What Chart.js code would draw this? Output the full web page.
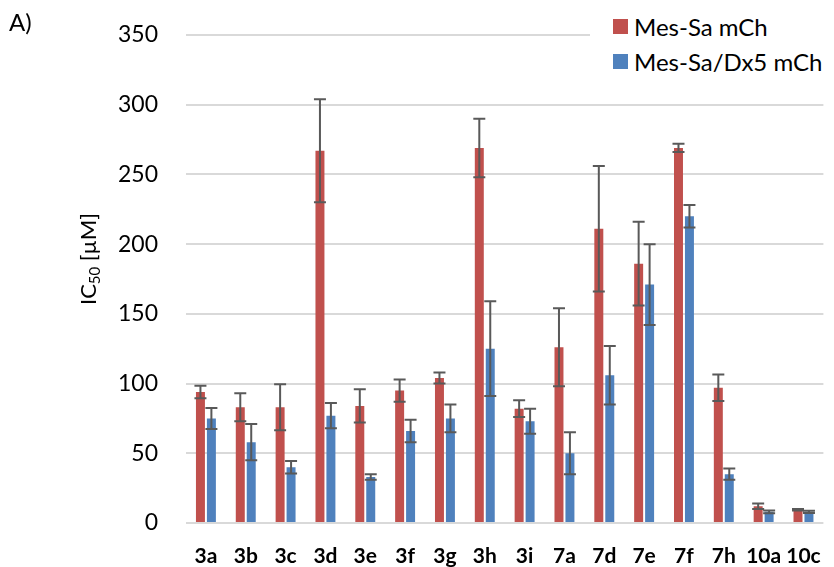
<!DOCTYPE html>
<html>
<head>
<meta charset="utf-8">
<script src="https://cdn.jsdelivr.net/npm/chart.js@4.4.1/dist/chart.umd.min.js"></script>
<style>
    body { margin: 0; background: #fff; }
    #wrap { position: relative; width: 834px; height: 567px; font-family: Lato, sans-serif; }
    #panel { position: absolute; left: 9px; top: 7px; font-size: 24px; color: #000; }
    #legend { position: absolute; left: 590px; top: 6px; width: 244px; background: #fff; padding: 3px 0 8px 0; }
    .item { display: flex; align-items: center; height: 35px; font-size: 24px; color: #000; white-space: nowrap; }
    .box { flex-shrink: 0; width: 15px; height: 15px; margin: 0 6px 0 23px; }
</style>
</head>
<body>
<div id="wrap">
    <canvas id="chart" width="834" height="567"></canvas>
    <div id="panel">A)</div>
    <div id="legend"></div>
</div>
<script>
const categories = ['3a', '3b', '3c', '3d', '3e', '3f', '3g', '3h', '3i', '7a', '7d', '7e', '7f', '7h', '10a', '10c'];
const mesSa = [94, 83, 83, 267, 84, 95, 104, 269, 82, 126, 211, 186, 269, 97, 12, 9.5];
const mesSaErr = [4.5, 10, 16.5, 37, 12, 8, 4, 21, 6, 28, 45, 30, 3, 9.5, 2, 0.5];
const mesSaDx5 = [75, 58, 40, 77, 33, 66, 75, 125, 73, 50, 106, 171, 220, 35, 8, 8];
const mesSaDx5Err = [7.5, 13, 4.5, 9, 2, 8, 10, 34, 9, 15, 21, 29, 8, 4, 1, 0.8];
const yTicks = [0, 50, 100, 150, 200, 250, 300, 350];

const errors = [mesSaErr, mesSaDx5Err];

// error bars drawn on top of the bars
const errorBarPlugin = {
    id: 'errorBars',
    afterDatasetsDraw(chart) {
        const ctx = chart.ctx;
        const y = chart.scales.y;
        ctx.save();
        ctx.strokeStyle = '#595959';
        ctx.lineWidth = 2;
        chart.data.datasets.forEach((ds, i) => {
            const meta = chart.getDatasetMeta(i);
            meta.data.forEach((bar, j) => {
                const v = ds.data[j];
                const e = errors[i][j];
                const top = y.getPixelForValue(v + e);
                const bot = y.getPixelForValue(v - e);
                ctx.beginPath();
                ctx.moveTo(bar.x, top);
                ctx.lineTo(bar.x, bot);
                ctx.moveTo(bar.x - 6, top);
                ctx.lineTo(bar.x + 6, top);
                ctx.moveTo(bar.x - 6, bot);
                ctx.lineTo(bar.x + 6, bot);
                ctx.stroke();
            });
        });
        ctx.restore();
    }
};

// y axis title with subscript
const yTitlePlugin = {
    id: 'yTitle',
    afterDraw(chart) {
        const ctx = chart.ctx;
        const big = '22px Lato';
        const small = '15px Lato';
        ctx.save();
        ctx.translate(96, 259);
        ctx.rotate(-Math.PI / 2);
        ctx.fillStyle = '#000';
        ctx.textBaseline = 'alphabetic';
        ctx.font = big;
        const w1 = ctx.measureText('IC').width;
        const w3 = ctx.measureText(' [µM]').width;
        ctx.font = small;
        const w2 = ctx.measureText('50').width;
        let x = -(w1 + w2 + w3) / 2;
        ctx.font = big;
        ctx.fillText('IC', x, 0);
        x += w1;
        ctx.font = small;
        ctx.fillText('50', x, 4);
        x += w2;
        ctx.font = big;
        ctx.fillText(' [µM]', x, 0);
        ctx.restore();
    }
};

Chart.defaults.font.family = 'Lato';
Chart.defaults.color = '#000';

const datasets = [
    { label: 'Mes-Sa mCh', data: mesSa, backgroundColor: '#c0504d' },
    { label: 'Mes-Sa/Dx5 mCh', data: mesSaDx5, backgroundColor: '#4f81bd' }
];

new Chart(document.getElementById('chart'), {
    type: 'bar',
    data: { labels: categories, datasets: datasets },
    options: {
        responsive: false,
        animation: false,
        datasets: { bar: { categoryPercentage: 0.55, barPercentage: 0.82 } },
        layout: { padding: { left: 0, right: 9, top: 35, bottom: 0 } },
        plugins: { legend: { display: false }, tooltip: { enabled: false } },
        scales: {
            x: {
                grid: { display: false },
                border: { display: false },
                ticks: { font: { size: 21, weight: 'bold' }, padding: 13, maxRotation: 0, minRotation: 0, autoSkip: false },
                afterFit: (s) => { s.height = 44; }
            },
            y: {
                min: 0,
                max: 350,
                afterBuildTicks: (s) => { s.ticks = yTicks.map(v => ({ value: v })); },
                grid: { color: '#d9d9d9', lineWidth: 2, drawTicks: true, tickLength: 28, tickColor: 'transparent' },
                border: { display: false },
                ticks: { font: { size: 23 }, padding: 0 },
                afterFit: (s) => { s.width = 186; }
            }
        }
    },
    plugins: [errorBarPlugin, yTitlePlugin]
});

const legend = document.getElementById('legend');
datasets.forEach(ds => {
    const item = document.createElement('div');
    item.className = 'item';
    item.innerHTML = `<span class="box" style="background:${ds.backgroundColor}"></span><span>${ds.label}</span>`;
    legend.appendChild(item);
});
</script>
</body>
</html>
